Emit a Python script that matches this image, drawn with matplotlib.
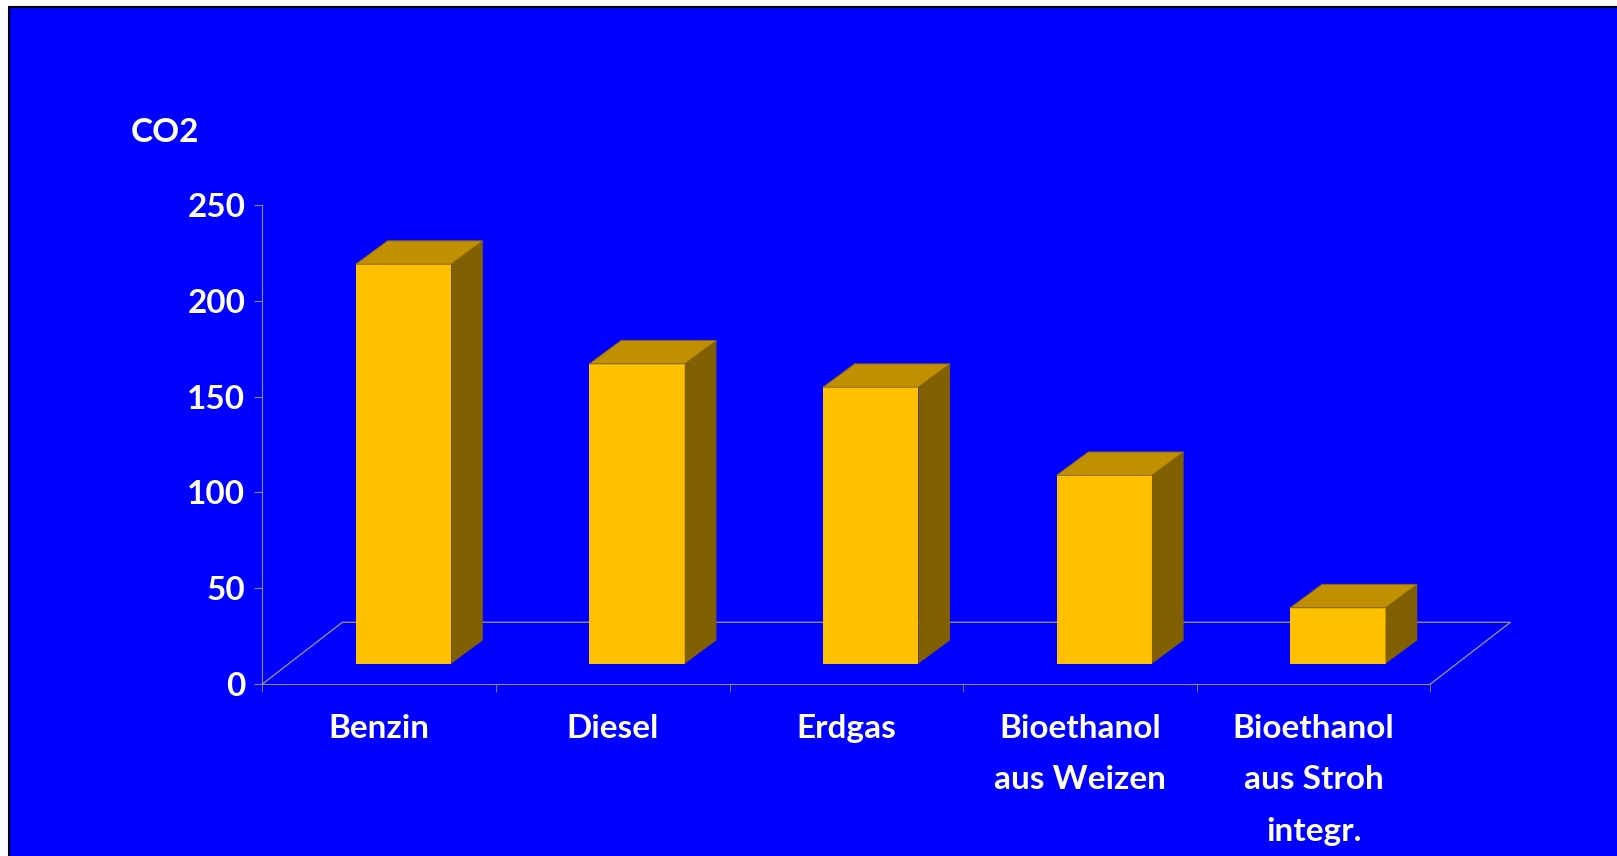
import matplotlib
matplotlib.use("Agg")
import matplotlib.pyplot as plt
import matplotlib.patches as mpatches

plt.rcParams['font.family'] = ['Lato', 'DejaVu Sans']
plt.rcParams['font.weight'] = 'bold'

# data
categories = ["Benzin", "Diesel", "Erdgas", "Bioethanol\naus Weizen", "Bioethanol\naus Stroh\nintegr."]
co2_values = [208.5, 156.5, 144.3, 98.3, 29.2]
y_ticks = [0, 50, 100, 150, 200, 250]
y_label = "CO2"

# look
bg_blue = '#0000FF'
front_col = '#FFC000'
top_col = '#C09000'
side_col = '#806000'
line_col = '#8C8C8C'

# fake 3d geometry (in data units: categories on x, CO2 on y)
floor_dx, floor_dy = 0.3425, 32.2     # depth of the floor
front_dx, front_dy = 0.104, 10.6      # where the bar fronts sit
bar_dx, bar_dy = 0.1357, 12.2         # depth of each bar
bar_w = 0.408

fig = plt.figure(figsize=(16.17, 8.56), dpi=100)
fig.patch.set_facecolor('white')
fig.patches.append(mpatches.Rectangle((9 / 1617, -0.05), 1.1, 1 - 7 / 856 + 0.05,
                                      transform=fig.transFigure, facecolor=bg_blue,
                                      edgecolor='black', linewidth=1.5, zorder=-10))

ax = fig.add_axes([262.4 / 1617, 1 - 684 / 856, 1168 / 1617, 479 / 856])
ax.patch.set_visible(False)
ax.set_xlim(0, len(categories))
ax.set_ylim(0, 250)

n = len(categories)
# floor outline
ax.plot([0, floor_dx, n + floor_dx, n], [0, floor_dy, floor_dy, 0],
        color=line_col, lw=1, clip_on=False, zorder=1)

# bars: front face via ax.bar, top and side as polygons
lefts = [i + 0.5 + front_dx - bar_w / 2 for i in range(n)]
ax.bar(lefts, co2_values, width=bar_w, bottom=front_dy, align='edge',
       color=front_col, zorder=3, clip_on=False)
for x0, v in zip(lefts, co2_values):
    y0 = front_dy
    y1 = front_dy + v
    x1 = x0 + bar_w
    top = mpatches.Polygon([(x0, y1), (x1, y1), (x1 + bar_dx, y1 + bar_dy), (x0 + bar_dx, y1 + bar_dy)],
                           closed=True, facecolor=top_col, edgecolor='#8A6A10', lw=0.7,
                           zorder=3, clip_on=False)
    side = mpatches.Polygon([(x1, y0), (x1 + bar_dx, y0 + bar_dy), (x1 + bar_dx, y1 + bar_dy), (x1, y1)],
                            closed=True, facecolor=side_col, edgecolor='none',
                            zorder=3, clip_on=False)
    ax.add_patch(side)
    ax.add_patch(top)

# axes
for s in ['top', 'right']:
    ax.spines[s].set_visible(False)
ax.spines['left'].set_color(line_col)
ax.spines['bottom'].set_color(line_col)
ax.spines['left'].set_zorder(2)
ax.spines['bottom'].set_zorder(2)

ax.set_yticks(y_ticks)
ax.set_yticklabels([str(t) for t in y_ticks])
ax.tick_params(axis='y', direction='out', length=5.8, color=line_col, pad=6.5,
               labelcolor='white', labelsize=24)

ax.set_xticks([i + 0.5 for i in range(n)])
ax.set_xticklabels(categories)
ax.set_xticks(range(n + 1), minor=True)
ax.tick_params(axis='x', which='major', length=0, pad=21.5, labelcolor='white', labelsize=24)
ax.tick_params(axis='x', which='minor', direction='out', length=5.8, color=line_col)
for lab in ax.get_xticklabels():
    lab.set_linespacing(1.94)
    lab.set_fontweight('bold')
for lab in ax.get_yticklabels():
    lab.set_fontweight('bold')

ax.text(-0.1125, 1.132, y_label, transform=ax.transAxes, ha='left', va='baseline',
        color='white', fontsize=24, fontweight='bold')

fig.savefig("out.png", dpi=100, facecolor=fig.get_facecolor())
